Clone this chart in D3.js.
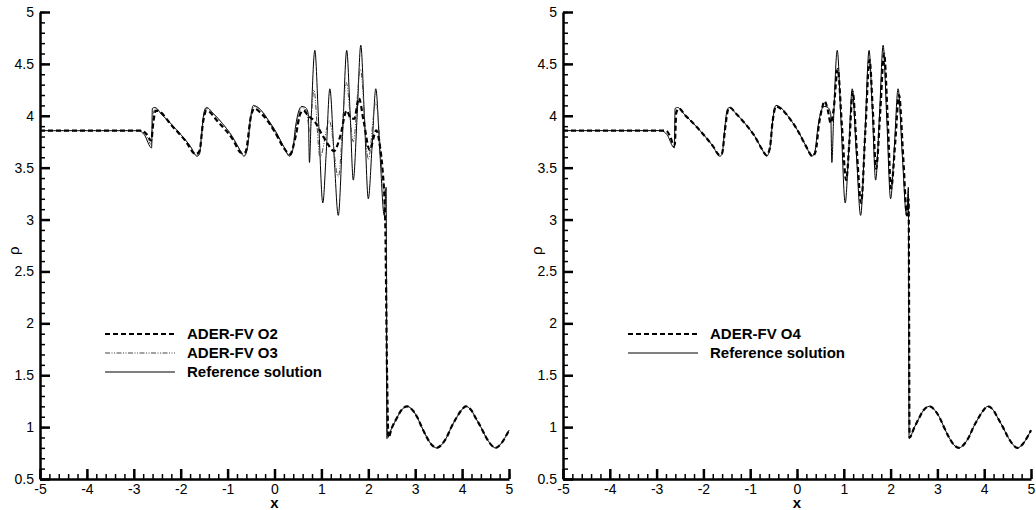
<!DOCTYPE html>
<html>
<head>
<meta charset="utf-8">
<script src="https://cdn.jsdelivr.net/npm/d3@7"></script>
<style>
  body { margin: 0; background: #fff; }
  text { font-family: "Liberation Sans", Arial, Helvetica, sans-serif; }
</style>
</head>
<body>
<svg width="1036" height="510"></svg>
<script>
// values, [x, rho]
var referenceSolution = [
  [-5, 3.857], [-2.9, 3.857], [-2.78, 3.82], [-2.62, 3.69], [-2.605, 4.07], [-2.55, 4.08],
  [-2.4, 4.01], [-2.2, 3.92], [-2.0, 3.82], [-1.8, 3.71], [-1.65, 3.61], [-1.6, 3.63],
  [-1.55, 3.85], [-1.5, 4.04], [-1.45, 4.08], [-1.3, 4.02], [-1.1, 3.92], [-0.9, 3.80],
  [-0.75, 3.68], [-0.65, 3.61], [-0.58, 3.68], [-0.52, 3.95], [-0.45, 4.10], [-0.35, 4.08],
  [-0.15, 3.97], [0.05, 3.83], [0.2, 3.70], [0.32, 3.61], [0.38, 3.65], [0.45, 3.90],
  [0.52, 4.05], [0.58, 4.09], [0.66, 4.08], [0.72, 4.02], [0.745, 3.55], [0.78, 3.95],
  [0.86, 4.63], [0.94, 3.95], [1.03, 3.16], [1.1, 3.62], [1.18, 4.26], [1.27, 3.62],
  [1.36, 3.04], [1.45, 3.80], [1.54, 4.63], [1.61, 4.05], [1.68, 3.38], [1.76, 3.98],
  [1.84, 4.68], [1.92, 3.95], [2.0, 3.20], [2.08, 3.70], [2.16, 4.26], [2.25, 3.62],
  [2.34, 3.04], [2.38, 3.31], [2.395, 0.89]
];

var postShock = [
  [2.5, 0.99], [2.6, 1.08], [2.7, 1.16], [2.83, 1.2], [2.95, 1.16], [3.05, 1.09],
  [3.14, 1.0], [3.25, 0.9], [3.35, 0.83], [3.46, 0.8], [3.58, 0.84], [3.68, 0.91],
  [3.77, 1.0], [3.88, 1.09], [3.98, 1.16], [4.08, 1.2], [4.2, 1.16], [4.3, 1.08],
  [4.4, 1.0], [4.5, 0.91], [4.6, 0.84], [4.71, 0.8], [4.83, 0.84], [4.93, 0.91], [5.0, 0.97]
];

var aderO2 = [
  [-5, 3.857], [-2.85, 3.857], [-2.72, 3.82], [-2.63, 3.76], [-2.58, 3.95], [-2.53, 4.05],
  [-2.45, 4.04], [-2.2, 3.91], [-1.9, 3.76], [-1.68, 3.63], [-1.6, 3.66], [-1.52, 3.95],
  [-1.45, 4.05], [-1.2, 3.94], [-0.9, 3.78], [-0.7, 3.64], [-0.62, 3.65], [-0.5, 4.0],
  [-0.43, 4.07], [-0.3, 4.03], [0, 3.85], [0.2, 3.69], [0.33, 3.63], [0.45, 3.8],
  [0.55, 4.02], [0.62, 4.05], [0.72, 4.0], [0.85, 3.95], [1.0, 3.83], [1.12, 3.74],
  [1.27, 3.66], [1.4, 3.8], [1.54, 4.05], [1.62, 3.98], [1.7, 3.97], [1.8, 4.17],
  [1.9, 3.95], [2.03, 3.67], [2.17, 3.86], [2.25, 3.7], [2.3, 3.5], [2.36, 3.0],
  [2.4, 1.5], [2.43, 0.9]
];

var aderO3 = [
  [-5, 3.857], [-2.85, 3.857], [-2.74, 3.81], [-2.62, 3.72], [-2.59, 4.02], [-2.53, 4.07],
  [-2.4, 4.01], [-2.2, 3.92], [-2.0, 3.82], [-1.8, 3.71], [-1.66, 3.62], [-1.6, 3.64],
  [-1.53, 3.9], [-1.46, 4.07], [-1.3, 4.02], [-1.1, 3.92], [-0.9, 3.80], [-0.72, 3.66],
  [-0.64, 3.62], [-0.56, 3.75], [-0.5, 3.98], [-0.44, 4.09], [-0.3, 4.06], [0, 3.85],
  [0.2, 3.70], [0.32, 3.62], [0.4, 3.7], [0.5, 3.98], [0.58, 4.08], [0.68, 4.05],
  [0.75, 3.85], [0.84, 4.25], [0.97, 3.6], [1.17, 3.95], [1.36, 3.41], [1.53, 4.32],
  [1.68, 3.75], [1.83, 4.45], [2.0, 3.58], [2.16, 4.13], [2.33, 3.3], [2.38, 3.2],
  [2.41, 0.9]
];

var aderO4 = [
  [-5, 3.857], [-2.8, 3.857], [-2.7, 3.79], [-2.63, 3.71], [-2.61, 3.73], [-2.58, 4.03],
  [-2.52, 4.07], [-2.4, 4.01], [-2.2, 3.92], [-2.0, 3.82], [-1.8, 3.71], [-1.65, 3.62],
  [-1.6, 3.64], [-1.54, 3.86], [-1.48, 4.05], [-1.44, 4.08], [-1.3, 4.02], [-1.1, 3.92],
  [-0.9, 3.80], [-0.75, 3.68], [-0.65, 3.62], [-0.58, 3.69], [-0.52, 3.95], [-0.45, 4.09],
  [-0.35, 4.07], [-0.15, 3.97], [0.05, 3.83], [0.2, 3.70], [0.33, 3.61], [0.4, 3.66],
  [0.47, 3.92], [0.54, 4.08], [0.59, 4.14], [0.66, 4.05], [0.72, 3.93], [0.78, 4.05],
  [0.87, 4.45], [0.96, 3.9], [1.05, 3.38], [1.12, 3.75], [1.19, 4.23], [1.28, 3.65],
  [1.37, 3.16], [1.46, 3.85], [1.55, 4.54], [1.62, 4.05], [1.69, 3.49], [1.78, 4.05],
  [1.86, 4.6], [1.94, 3.95], [2.01, 3.3], [2.1, 3.75], [2.18, 4.2], [2.27, 3.6],
  [2.35, 3.04], [2.385, 3.2], [2.405, 0.9]
];

var xTickValues = [-5, -4, -3, -2, -1, 0, 1, 2, 3, 4, 5];
var yTickValues = [0.5, 1, 1.5, 2, 2.5, 3, 3.5, 4, 4.5, 5];
var xMinorValues = d3.range(-5, 5.001, 0.2);
var yMinorValues = d3.range(0.5, 5.001, 0.1);
var leftNames = ["ADER-FV O2", "ADER-FV O3", "Reference solution"];
var rightNames = ["ADER-FV O4", "Reference solution"];

var styles = {
  "ADER-FV O2": { w: 2.2, dash: "5,3", color: "#000" },
  "ADER-FV O3": { w: 1, dash: "5,1.5,1,1.5,1,1.5", color: "#444" },
  "ADER-FV O4": { w: 2.2, dash: "5,3", color: "#000" },
  "Reference solution": { w: 1, dash: null, color: "#000" }
};

var svg = d3.select("svg"),
    plotTop = 12,
    plotBottom = 479;

var panels = [
  { left: 40, right: 509, names: leftNames,
    data: { "Reference solution": referenceSolution.concat(postShock),
            "ADER-FV O3": aderO3.concat(postShock),
            "ADER-FV O2": aderO2.concat(postShock) } },
  { left: 563, right: 1031, names: rightNames,
    data: { "Reference solution": referenceSolution.concat(postShock),
            "ADER-FV O4": aderO4.concat(postShock) } }
];

panels.forEach(function(p) {
  var x = d3.scaleLinear().domain([-5, 5]).range([p.left, p.right]),
      y = d3.scaleLinear().domain([0.5, 5]).range([plotBottom, plotTop]);
  var g = svg.append("g");

  // minor ticks (inward, no labels)
  g.append("g")
    .attr("transform", "translate(0," + plotBottom + ")")
    .call(d3.axisBottom(x).tickValues(xMinorValues).tickSize(-5).tickSizeOuter(0).tickFormat(""))
    .call(function(a) { a.select(".domain").remove(); a.selectAll("line").attr("stroke", "#000").attr("stroke-width", 1.5); });
  g.append("g")
    .attr("transform", "translate(" + p.left + ",0)")
    .call(d3.axisLeft(y).tickValues(yMinorValues).tickSize(-5).tickSizeOuter(0).tickFormat(""))
    .call(function(a) { a.select(".domain").remove(); a.selectAll("line").attr("stroke", "#000").attr("stroke-width", 1.5); });

  // major ticks, axis lines and labels
  g.append("g")
    .attr("transform", "translate(0," + plotBottom + ")")
    .call(d3.axisBottom(x).tickValues(xTickValues).tickSize(-10).tickSizeOuter(0).tickPadding(5)
      .tickFormat(function(d) { return String(d); }))
    .call(function(a) {
      a.select(".domain").attr("stroke", "#000").attr("stroke-width", 2.5);
      a.selectAll("line").attr("stroke", "#000").attr("stroke-width", 2.5);
      a.selectAll("text").attr("font-size", 14).attr("fill", "#000").style("font-family", "Liberation Sans, Arial");
    });
  g.append("g")
    .attr("transform", "translate(" + p.left + ",0)")
    .call(d3.axisLeft(y).tickValues(yTickValues).tickSize(-10).tickSizeOuter(0).tickPadding(6)
      .tickFormat(function(d) { return String(d); }))
    .call(function(a) {
      a.select(".domain").attr("stroke", "#000").attr("stroke-width", 2.5);
      a.selectAll("line").attr("stroke", "#000").attr("stroke-width", 2.5);
      a.selectAll("text").attr("font-size", 14).attr("fill", "#000").style("font-family", "Liberation Sans, Arial");
    });

  g.append("text")
    .attr("x", x(0)).attr("y", 508)
    .attr("text-anchor", "middle")
    .attr("font-size", 15).attr("font-weight", "bold")
    .text("x");
  g.append("text")
    .attr("transform", "translate(" + (p.left - 21) + "," + y(2.7) + ") rotate(-90)")
    .attr("text-anchor", "middle")
    .attr("font-size", 15)
    .text("ρ");

  var line = d3.line()
    .x(function(d) { return x(d[0]); })
    .y(function(d) { return y(d[1]); })
    .curve(d3.curveMonotoneX);

  // reference first, numerical schemes on top
  ["Reference solution"].concat(p.names.filter(function(n) { return n != "Reference solution"; }).reverse())
    .forEach(function(name) {
      var s = styles[name];
      g.append("path")
        .datum(p.data[name])
        .attr("fill", "none")
        .attr("stroke", s.color)
        .attr("stroke-width", s.w)
        .attr("stroke-dasharray", s.dash)
        .attr("stroke-linejoin", "round")
        .attr("d", line);
    });

  // legend
  var leg = g.selectAll(".leg").data(p.names).enter().append("g")
    .attr("transform", function(d, i) { return "translate(" + (p.left + 65) + "," + (334 + i * 19) + ")"; });
  leg.append("line")
    .attr("x1", 0).attr("x2", 70)
    .attr("stroke", function(d) { return styles[d].color; })
    .attr("stroke-width", function(d) { return styles[d].w; })
    .attr("stroke-dasharray", function(d) { return styles[d].dash; });
  leg.append("text")
    .attr("x", 82).attr("y", 5)
    .attr("font-size", 15).attr("font-weight", "bold")
    .text(function(d) { return d; });
});
</script>
</body>
</html>
